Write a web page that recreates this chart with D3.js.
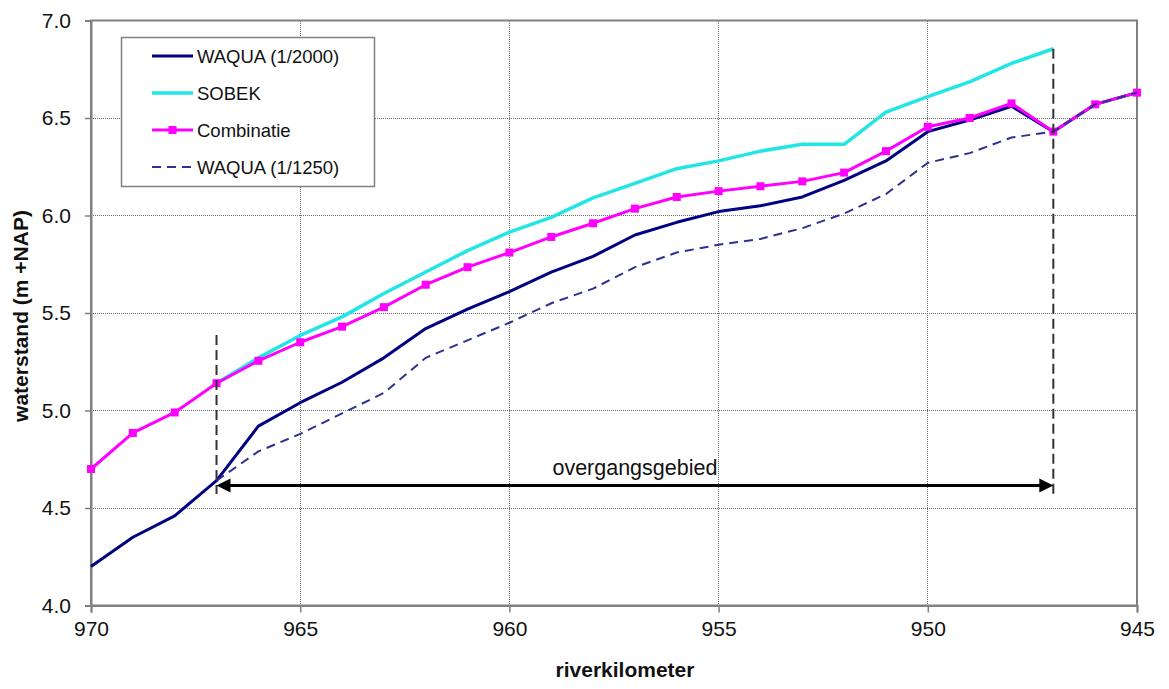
<!DOCTYPE html>
<html><head><meta charset="utf-8">
<script src="https://cdn.jsdelivr.net/npm/d3@7"></script>
<style>body{margin:0;background:#fff;} text{font-family:Arial,"Liberation Sans",sans-serif;}</style>
</head><body>
<svg id="c" width="1169" height="689"></svg>
<script>
const km = [970,969,968,967,966,965,964,963,962,961,960,959,958,957,956,955,954,953,952,951,950,949,948,947,946,945];
const waqua2000 = [4.20,4.35,4.46,4.64,4.92,5.04,5.145,5.27,5.42,5.52,5.61,5.71,5.79,5.90,5.965,6.02,6.05,6.095,6.18,6.28,6.43,6.49,6.56,6.43,6.57,6.63];
const sobek = [null,null,null,5.14,5.27,5.385,5.48,5.60,5.71,5.82,5.915,5.99,6.09,6.165,6.24,6.28,6.33,6.365,6.365,6.53,6.61,6.685,6.78,6.855,null,null];
const combinatie = [4.70,4.885,4.99,5.14,5.255,5.35,5.43,5.53,5.645,5.735,5.81,5.89,5.96,6.035,6.095,6.125,6.15,6.175,6.22,6.33,6.455,6.50,6.575,6.43,6.57,6.63];
const waqua1250 = [null,null,null,4.64,4.79,4.88,4.985,5.09,5.27,5.36,5.45,5.55,5.625,5.735,5.81,5.85,5.88,5.935,6.01,6.11,6.27,6.32,6.40,6.43,6.57,6.63];
const xTicks = [970,965,960,955,950,945];
const yTicks = [4.0,4.5,5.0,5.5,6.0,6.5,7.0];
const transitionKm = [967,947];
const seriesNames = ["WAQUA (1/2000)","SOBEK","Combinatie","WAQUA (1/1250)"];

const svg = d3.select("#c");
svg.append("rect").attr("width",1169).attr("height",689).attr("fill","#fff");
const x = d3.scaleLinear().domain([970,945]).range([91,1137]);
const y = d3.scaleLinear().domain([4,7]).range([605.5,20.5]);

// gridlines
const grid = svg.append("g").attr("stroke","#6a6a6a").attr("stroke-width",1).attr("stroke-dasharray","1,1").attr("shape-rendering","crispEdges");
yTicks.forEach(v=>grid.append("line").attr("x1",x(970)).attr("x2",x(945)).attr("y1",y(v)).attr("y2",y(v)));
xTicks.forEach(v=>grid.append("line").attr("x1",x(v)).attr("x2",x(v)).attr("y1",y(4)).attr("y2",y(7)));

// frame
svg.append("rect").attr("x",x(970)).attr("y",y(7)).attr("width",x(945)-x(970)).attr("height",y(4)-y(7))
  .attr("fill","none").attr("stroke","#808080").attr("stroke-width",2);

// axes
const yAxis = d3.axisLeft(y).tickValues(yTicks).tickFormat(d3.format(".1f")).tickSize(6).tickPadding(14);
const gy = svg.append("g").attr("transform",`translate(${x(970)},0)`).call(yAxis);
const xAxis = d3.axisBottom(x).tickValues(xTicks).tickFormat(d3.format("d")).tickSize(7).tickPadding(9);
const gx = svg.append("g").attr("transform",`translate(0,${y(4)})`).call(xAxis);
[gx,gy].forEach(g=>{
  g.select(".domain").attr("stroke","#808080").attr("stroke-width",2);
  g.selectAll(".tick line").attr("stroke","#808080").attr("stroke-width",1.5);
  g.selectAll(".tick text").attr("font-size",21).attr("fill","#111").style("font-family","Arial, 'Liberation Sans', sans-serif");
});

// axis titles
svg.append("text").attr("x",625).attr("y",677).attr("text-anchor","middle").attr("font-size",21).attr("font-weight","bold").attr("fill","#111").text("riverkilometer");
svg.append("text").attr("transform","translate(28,316) rotate(-90)").attr("text-anchor","middle").attr("font-size",21).attr("font-weight","bold").attr("fill","#111").text("waterstand (m +NAP)");

// lines
const pts = arr => km.map((k,i)=>({k, v:arr[i]}));
const line = d3.line().defined(d=>d.v!==null).x(d=>x(d.k)).y(d=>y(d.v));
svg.append("path").datum(pts(waqua2000)).attr("d",line).attr("fill","none").attr("stroke","#000080").attr("stroke-width",3).attr("stroke-linejoin","round");
svg.append("path").datum(pts(sobek)).attr("d",line).attr("fill","none").attr("stroke","#22e6e6").attr("stroke-width",3.5).attr("stroke-linejoin","round");
svg.append("path").datum(pts(combinatie)).attr("d",line).attr("fill","none").attr("stroke","#ff00ff").attr("stroke-width",3).attr("stroke-linejoin","round");
svg.append("g").selectAll("rect").data(pts(combinatie)).join("rect")
  .attr("x",d=>x(d.k)-4).attr("y",d=>y(d.v)-4).attr("width",8).attr("height",8).attr("fill","#ff00ff");
svg.append("path").datum(pts(waqua1250)).attr("d",line).attr("fill","none").attr("stroke","#2e3192").attr("stroke-width",2).attr("stroke-dasharray","9,6");

// transition markers
const tg = svg.append("g");
tg.append("line").attr("x1",x(transitionKm[0])).attr("x2",x(transitionKm[0])).attr("y1",335).attr("y2",494)
  .attr("stroke","#333").attr("stroke-width",2).attr("stroke-dasharray","10,5");
tg.append("line").attr("x1",x(transitionKm[1])).attr("x2",x(transitionKm[1])).attr("y1",y(6.855)).attr("y2",494)
  .attr("stroke","#333").attr("stroke-width",2).attr("stroke-dasharray","10,5");
const ay = 485.5, ax1 = x(transitionKm[0]), ax2 = x(transitionKm[1]);
tg.append("line").attr("x1",ax1+10).attr("x2",ax2-10).attr("y1",ay).attr("y2",ay).attr("stroke","#000").attr("stroke-width",3);
tg.append("path").attr("d",`M${ax1},${ay} L${ax1+14},${ay-7} L${ax1+14},${ay+7} Z`).attr("fill","#000");
tg.append("path").attr("d",`M${ax2},${ay} L${ax2-14},${ay-7} L${ax2-14},${ay+7} Z`).attr("fill","#000");
tg.append("text").attr("x",(ax1+ax2)/2).attr("y",475).attr("text-anchor","middle").attr("font-size",21.5).attr("fill","#111").text("overgangsgebied");

// legend
const lg = svg.append("g");
lg.append("rect").attr("x",121.5).attr("y",37.5).attr("width",253).attr("height",149).attr("fill","#fff").attr("stroke","#808080").attr("stroke-width",1.5);
const rowsY = [56,93,130,167];
const styles = [
  {c:"#000080",w:3,d:null,m:false},
  {c:"#22e6e6",w:3.5,d:null,m:false},
  {c:"#ff00ff",w:3,d:null,m:true},
  {c:"#2e3192",w:2,d:"9,6",m:false}];
seriesNames.forEach((n,i)=>{
  const s = styles[i];
  const l = lg.append("line").attr("x1",152).attr("x2",193).attr("y1",rowsY[i]).attr("y2",rowsY[i]).attr("stroke",s.c).attr("stroke-width",s.w);
  if(s.d) l.attr("stroke-dasharray",s.d);
  if(s.m) lg.append("rect").attr("x",168.5).attr("y",rowsY[i]-4).attr("width",8).attr("height",8).attr("fill",s.c);
  lg.append("text").attr("x",197).attr("y",rowsY[i]+6.5).attr("font-size",18.5).attr("fill","#111").text(n);
});
</script>
</body></html>
